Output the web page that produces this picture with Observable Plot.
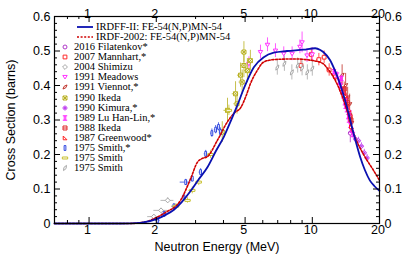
<!DOCTYPE html>
<html><head><meta charset="utf-8">
<script src="https://cdn.jsdelivr.net/npm/d3@7"></script>
<script src="https://cdn.jsdelivr.net/npm/@observablehq/plot@0.6"></script>
<style>
body{margin:0;background:#fff}
#wrap{position:relative;width:411px;height:260px;overflow:hidden}
#legend{position:absolute;left:0;top:0;font-family:"Liberation Serif","Times New Roman",serif;font-size:10.5px;color:#000}
.row{position:absolute;white-space:nowrap;line-height:12px;height:12px;display:flex;align-items:center}
.row svg{display:block}
</style></head><body><div id="wrap"><div id="chart"></div><div id="legend"></div></div>
<script>
// ---- axis ticks ----
const xMajor = [1, 2, 5, 10, 20];
const xMinor = [0.8, 0.9, 3, 4, 6, 7, 8, 9];
const yMajor = [0, 0.1, 0.2, 0.3, 0.4, 0.5, 0.6];
const yMinor = [0.02,0.04,0.06,0.08,0.12,0.14,0.16,0.18,0.22,0.24,0.26,0.28,0.32,0.34,0.36,0.38,0.42,0.44,0.46,0.48,0.52,0.54,0.56,0.58];
const xTitle = "Neutron Energy (MeV)";
const yTitle = "Cross Section (barns)";

// ---- evaluated curves (E in MeV, sigma in barns) ----
const irdffE = [0.7,1.0,1.4,1.7,2.03,2.2,2.4,2.6,2.85,3.1,3.39,3.7,4.02,4.3,4.6,4.94,5.47,6.06,6.72,7.7,9.15,10.3,10.86,11.2,12.0,12.6,13.3,14.3,15.3,16.4,17.2,18.1,19.0,20];
const irdffS = [0,0,0,0.002,0.014,0.025,0.040,0.062,0.094,0.128,0.163,0.21,0.252,0.295,0.34,0.392,0.453,0.482,0.495,0.500,0.504,0.508,0.503,0.497,0.474,0.445,0.405,0.337,0.262,0.192,0.155,0.125,0.108,0.095];
const irdfE = [0.7,1.5,1.8,1.95,2.2,2.57,2.85,3.06,3.2,3.39,3.75,4.16,4.5,4.77,5.05,5.28,5.66,6.06,6.72,8.25,10.1,11.2,11.6,12.9,14.3,15.3,16.9,18.8,20];
const irdfS = [0,0,0.005,0.014,0.032,0.067,0.13,0.178,0.188,0.194,0.24,0.294,0.322,0.335,0.37,0.405,0.443,0.468,0.475,0.477,0.472,0.463,0.452,0.405,0.328,0.262,0.202,0.154,0.125];

// ---- experimental data: [E, sigma, dSigma, dE] ----
const filatenkov = [[14.8,0.262,0.028,0.15],[13.9,0.372,0.015,0.15]];
const mannhart = [[8.9,0.458,0.018,0.2],[9.9,0.49,0.018,0.25],[10.7,0.475,0.018,0.25],[11.3,0.482,0.018,0.25],[11.9,0.445,0.018,0.3],[12.7,0.425,0.018,0.3],[13.5,0.39,0.018,0.3],[14.2,0.36,0.018,0.2],[14.8,0.31,0.018,0.2]];
const shimizu = [[1.95,0.02,0.006,0.12],[2.1,0.038,0.006,0.15],[2.25,0.067,0.008,0.15]];
const meadows = [[5.2,0.463,0.02,0.1],[5.86,0.497,0.02,0.1],[6.3,0.518,0.02,0.1],[6.84,0.501,0.02,0.1],[7.45,0.492,0.02,0.1],[8.12,0.492,0.02,0.1],[8.8,0.512,0.02,0.1],[9.0,0.525,0.03,0.1],[9.47,0.487,0.02,0.1],[10.0,0.49,0.02,0.1]];
const viennot = [[13.6,0.43,0.03,0.1],[14.1,0.40,0.035,0.1],[14.4,0.365,0.03,0.1],[14.7,0.345,0.03,0.1],[15.0,0.29,0.03,0.1]];
const ikeda1990 = [[3.95,0.265,0.03,0.1],[4.17,0.328,0.035,0.15],[4.53,0.376,0.035,0.15],[4.6,0.347,0.03,0.15],[4.77,0.43,0.035,0.15],[4.85,0.41,0.035,0.15],[4.94,0.458,0.035,0.15],[5.12,0.443,0.035,0.15],[5.28,0.472,0.03,0.15],[4.94,0.497,0.03,0.15]];
const kimura = [[15.6,0.245,0.01,0.1],[16.1,0.24,0.01,0.1],[16.6,0.224,0.01,0.1],[17.1,0.205,0.01,0.1],[17.6,0.19,0.01,0.1]];
const luHanLin = [[12.5,0.44,0.01,0.1],[12.9,0.43,0.01,0.1],[13.2,0.41,0.01,0.1],[13.4,0.40,0.01,0.1],[13.5,0.42,0.01,0.1],[13.6,0.385,0.01,0.1],[13.8,0.37,0.01,0.1],[14.0,0.35,0.01,0.1],[14.1,0.34,0.01,0.1],[14.2,0.36,0.01,0.1],[14.3,0.33,0.01,0.1],[14.5,0.31,0.01,0.1],[14.6,0.30,0.01,0.1],[14.7,0.32,0.01,0.1],[14.8,0.285,0.01,0.1],[15.0,0.27,0.01,0.1],[15.2,0.258,0.01,0.1]];
const ikeda1988 = [[13.9,0.39,0.02,0.1],[14.4,0.35,0.02,0.1],[14.9,0.30,0.02,0.1]];
const greenwood = [[14.1,0.37,0.015,0.1],[14.6,0.33,0.015,0.1],[14.95,0.28,0.015,0.1]];
const smithA = [[2.03,0.009,0.003,0.05],[2.17,0.028,0.004,0.05],[2.4,0.05,0.005,0.05],[2.66,0.076,0.006,0.05],[2.71,0.12,0.008,0.15],[2.9,0.13,0.008,0.05],[3.16,0.149,0.01,0.05],[3.33,0.202,0.01,0.05],[3.55,0.262,0.012,0.05],[3.69,0.272,0.012,0.05],[3.8,0.28,0.012,0.05],[3.88,0.265,0.012,0.05]];
const smithB = [[2.45,0.05,0.008,0.1],[2.76,0.067,0.008,0.1],[2.9,0.096,0.01,0.1],[3.1,0.12,0.01,0.1],[3.5,0.2,0.012,0.1],[4.23,0.328,0.015,0.15]];
const smithC = [[6.97,0.452,0.022,0.05],[7.5,0.463,0.022,0.05],[8.1,0.438,0.022,0.05],[8.6,0.458,0.022,0.05],[9.0,0.45,0.022,0.05],[9.5,0.438,0.022,0.05],[10.0,0.449,0.022,0.05]];

// ---- symbols ----
const R = s => Math.sqrt(s) / 2;
const symCircle = {draw(c, s){ const r = R(s) * 0.9; c.moveTo(r, 0); c.arc(0, 0, r, 0, 2 * Math.PI); }};
const symSquare = {draw(c, s){ const r = R(s) * 0.85; c.rect(-r, -r, 2 * r, 2 * r); }};
const symDiamond = {draw(c, s){ const r = R(s) * 1.1; c.moveTo(0, -r); c.lineTo(r, 0); c.lineTo(0, r); c.lineTo(-r, 0); c.closePath(); }};
const symTriDown = {draw(c, s){ const r = R(s); c.moveTo(-r, -r * 0.7); c.lineTo(r, -r * 0.7); c.lineTo(0, r * 0.9); c.closePath(); }};
const symTriR = {draw(c, s){ const r = R(s); c.moveTo(-r * 0.8, r * 0.8); c.lineTo(r * 0.9, r * 0.8); c.lineTo(-r * 0.8, -r * 0.9); c.closePath(); }};
const slanted = (a, b, ang) => ({draw(c, s){ const r = R(s); const ca = Math.cos(ang), sa = Math.sin(ang);
  const pts = [[0, -b * r], [a * r, 0], [0, b * r], [-a * r, 0]].map(([x, y]) => [x * ca - y * sa, x * sa + y * ca]);
  c.moveTo(...pts[0]); c.lineTo(...pts[1]); c.lineTo(...pts[2]); c.lineTo(...pts[3]); c.closePath(); }});
const symSlantRed = slanted(0.5, 1.3, Math.PI / 4);
const symSlantGray = slanted(0.55, 1.35, Math.PI / 6);
const symSqX = {draw(c, s){ const r = R(s) * 0.9; c.rect(-r, -r, 2 * r, 2 * r); c.moveTo(-r, -r); c.lineTo(r, r); c.moveTo(r, -r); c.lineTo(-r, r); }};
const symFlower = {draw(c, s){ const r = R(s) * 0.55; for (const [x, y] of [[0,-r],[r,0],[0,r],[-r,0]]) { c.moveTo(x + r * 0.75, y); c.arc(x, y, r * 0.75, 0, 2 * Math.PI); } }};
const symIBeam = {draw(c, s){ const r = R(s); c.moveTo(-r, -r); c.lineTo(r, -r); c.moveTo(-r, r); c.lineTo(r, r); c.moveTo(-r * 0.35, -r); c.lineTo(-r * 0.35, r); c.moveTo(r * 0.35, -r); c.lineTo(r * 0.35, r); }};
const symH = {draw(c, s){ const r = R(s) * 0.9; c.moveTo(-r, -r); c.lineTo(-r, r); c.moveTo(r, -r); c.lineTo(r, r); c.moveTo(-r, 0); c.lineTo(r, 0); c.moveTo(-r, -r); c.lineTo(r, -r); c.moveTo(-r, r); c.lineTo(r, r); }};
const symRectV = {draw(c, s){ const r = R(s); c.rect(-r * 0.4, -r * 1.1, r * 0.8, r * 2.2); }};
const symRectH = {draw(c, s){ const r = R(s); c.rect(-r * 1.2, -r * 0.45, r * 2.4, r * 0.9); }};

const sets = [
  {name: "2016 Filatenkov*", data: filatenkov, color: "#b038c8", symbol: symCircle},
  {name: "2007 Mannhart,*", data: mannhart, color: "#ff2a2a", symbol: symSquare},
  {name: "2004 Shimizu", data: shimizu, color: "#a8a8a8", symbol: symDiamond},
  {name: "1991 Meadows", data: meadows, color: "#ff33ff", symbol: symTriDown},
  {name: "1991 Viennot,*", data: viennot, color: "#c03028", symbol: symSlantRed},
  {name: "1990 Ikeda", data: ikeda1990, color: "#b8b020", symbol: symSqX},
  {name: "1990 Kimura,*", data: kimura, color: "#c040f0", symbol: symFlower},
  {name: "1989 Lu Han-Lin,*", data: luHanLin, color: "#ff20ff", symbol: symIBeam},
  {name: "1988 Ikeda", data: ikeda1988, color: "#e02828", symbol: symH},
  {name: "1987 Greenwood*", data: greenwood, color: "#ff2020", symbol: symTriR},
  {name: "1975 Smith,*", data: smithA, color: "#3048e0", symbol: symRectV},
  {name: "1975 Smith", data: smithB, color: "#c8c030", symbol: symRectH},
  {name: "1975 Smith", data: smithC, color: "#a8a8a8", symbol: symSlantGray}
];

const W = 411, H = 260, mL = 54, mR = 32, mT = 16, mB = 37;
const fw = W - mL - mR, fh = H - mT - mB;
const irdff = irdffE.map((e, i) => ({e, s: irdffS[i]}));
const irdf = irdfE.map((e, i) => ({e, s: irdfS[i]}));
const yFmt = d => d === 0 ? "0" : d.toFixed(1);

const dataMarks = sets.flatMap(st => [
  Plot.ruleX(st.data, {x: d => d[0], y1: d => d[1] - d[2], y2: d => d[1] + d[2], stroke: st.color, strokeWidth: 1, strokeOpacity: 0.8}),
  Plot.ruleY(st.data, {y: d => d[1], x1: d => d[0] - d[3], x2: d => d[0] + d[3], stroke: st.color, strokeWidth: 1, strokeOpacity: 0.8}),
  Plot.dot(st.data, {x: d => d[0], y: d => d[1], r: 2.5, symbol: st.symbol, stroke: st.color, fill: "white", strokeWidth: 1})
]);

const chart = Plot.plot({
  width: W, height: H, marginLeft: mL, marginRight: mR, marginTop: mT, marginBottom: mB,
  style: {fontFamily: "'Liberation Sans', Arial, sans-serif", fontSize: "12.5px", color: "#000", background: "white", overflow: "visible"},
  x: {type: "log", domain: [0.7, 20], axis: null},
  y: {domain: [0, 0.6], axis: null},
  marks: [
    ...dataMarks,
    Plot.line(irdf, {x: "e", y: "s", stroke: "#d00000", strokeWidth: 1.6, strokeDasharray: "2,1.6", curve: "monotone-x"}),
    Plot.line(irdff, {x: "e", y: "s", stroke: "#0a10b0", strokeWidth: 1.8, curve: "monotone-x"}),
    // ticks (inward)
    Plot.tickX(xMajor, {x: d => d, insetTop: fh - 6, stroke: "#000"}),
    Plot.tickX(xMajor, {x: d => d, insetBottom: fh - 6, stroke: "#000"}),
    Plot.tickX(xMinor, {x: d => d, insetTop: fh - 3, stroke: "#000"}),
    Plot.tickX(xMinor, {x: d => d, insetBottom: fh - 3, stroke: "#000"}),
    Plot.tickY(yMajor, {y: d => d, insetRight: fw - 6, stroke: "#000"}),
    Plot.tickY(yMajor, {y: d => d, insetLeft: fw - 6, stroke: "#000"}),
    Plot.tickY(yMinor, {y: d => d, insetRight: fw - 3, stroke: "#000"}),
    Plot.tickY(yMinor, {y: d => d, insetLeft: fw - 3, stroke: "#000"}),
    // tick labels
    Plot.text(xMajor, {x: d => d, frameAnchor: "bottom", dy: 10, dx: -1.5, text: d => String(d)}),
    Plot.text(xMajor, {x: d => d, frameAnchor: "top", dy: -7, dx: -1.5, text: d => String(d)}),
    Plot.text(yMajor, {y: d => d, frameAnchor: "left", dx: -4, textAnchor: "end", text: yFmt}),
    Plot.text(yMajor, {y: d => d, frameAnchor: "right", dx: 5, textAnchor: "start", text: yFmt}),
    // axis titles
    Plot.text([xTitle], {frameAnchor: "bottom", dy: 27, textAnchor: "middle", text: d => d}),
    Plot.text([yTitle], {frameAnchor: "left", dx: -44, rotate: -90, textAnchor: "middle", text: d => d}),
    Plot.frame({stroke: "#000", strokeWidth: 1.2})
  ]
});
document.getElementById("chart").appendChild(chart);

// ---- legend (inside plot, top-left) ----
const legend = document.getElementById("legend");
const rowY0 = 26.7, rowDy = 10.12;
const lineRows = [
  {name: "IRDFF-II: FE-54(N,P)MN-54", color: "#0a10b0", dash: null, w: 1.8},
  {name: "IRDF-2002: FE-54(N,P)MN-54", color: "#d00000", dash: "2,1.6", w: 1.6}
];
lineRows.forEach((r, i) => {
  const div = document.createElement("div");
  div.className = "row";
  div.style.left = "77px"; div.style.top = (rowY0 + i * rowDy - 6) + "px";
  div.innerHTML = `<svg width="16" height="12"><line x1="0" x2="16" y1="6" y2="6" stroke="${r.color}" stroke-width="${r.w}" ${r.dash ? `stroke-dasharray="${r.dash}"` : ""}/></svg><span style="margin-left:3px">${r.name}</span>`;
  legend.appendChild(div);
});
sets.forEach((st, i) => {
  const div = document.createElement("div");
  div.className = "row";
  div.style.left = "60px"; div.style.top = (rowY0 + (i + 2) * rowDy - 6) + "px";
  const p = d3.symbol(st.symbol, 2.5 * 2.5 * Math.PI)();
  div.innerHTML = `<svg width="10" height="12"><path transform="translate(5,6)" d="${p}" fill="white" stroke="${st.color}" stroke-width="1"/></svg><span style="margin-left:4px">${st.name}</span>`;
  legend.appendChild(div);
});
</script></body></html>
